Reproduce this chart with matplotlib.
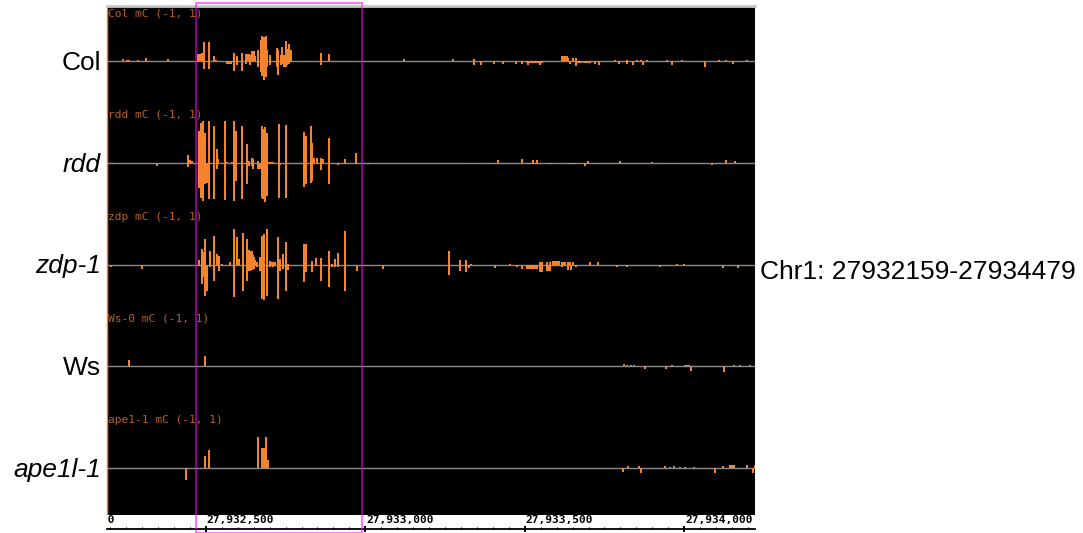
import matplotlib
matplotlib.use("Agg")
import matplotlib.pyplot as plt
from matplotlib.patches import Rectangle
from matplotlib.transforms import blended_transform_factory

# genome window shown and highlighted region
START = 27932190
END = 27934222
REGION = (27932469, 27932989)
MAJOR_TICKS = [27932000, 27932500, 27933000, 27933500, 27934000]
REF = 27932500  # bar positions below are offsets from this coordinate

names = ["Col", "rdd", "zdp-1", "Ws", "ape1l-1"]
italic = [False, True, True, False, True]
titles = ["Col mC (-1, 1)", "rdd mC (-1, 1)", "zdp mC (-1, 1)", "Ws-0 mC (-1, 1)", "ape1-1 mC (-1, 1)"]
chrom_label = "Chr1: 27932159-27934479"

# (offset bp, mC value)
col = [(-259, .05), (-248, .02), (-245, .02), (-241, .02), (-213, .03), (-188, .07), (-119, .04),
       (-25, .14), (-19, .15), (-13, .17), (-6, .39), (-5, -.15), (9, .39), (10, -.15), (25, .10), (31, .03),
       (66, -.06), (72, -.06), (78, -.06), (88, .17), (89, -.19), (97, .09), (98, -.08), (113, .17), (114, -.19),
       (125, .14), (126, -.05), (132, .14), (135, .14), (138, .12), (139, -.08), (144, .20), (145, -.01),
       (147, .20), (150, .20), (154, .09), (163, .23), (164, -.11), (172, .42), (173, -.21), (176, .50),
       (177, -.30), (182, .49), (183, -.37), (188, .50), (189, -.31), (191, .22), (192, -.11), (201, .12),
       (202, -.08), (223, .27), (224, -.11), (226, .22), (227, -.28), (235, .12), (236, -.08), (238, .29),
       (239, -.05), (245, .12), (246, -.11), (251, .40), (252, -.11), (254, .25), (255, -.08), (260, .33),
       (261, -.05), (266, .22), (267, -.01), (361, .17), (362, -.07), (386, .14),
       (621, .05), (774, .05), (840, .05), (841, -.07), (862, -.07), (903, -.05), (931, -.05), (972, -.05),
       (991, -.05), (1006, -.03), (1009, -.07), (1013, -.03), (1019, -.03), (1025, -.03), (1031, -.03),
       (1038, -.03), (1044, -.03), (1047, -.07), (1053, -.03), (1116, .10), (1119, .10), (1122, .10),
       (1125, .10), (1128, .10), (1132, .10), (1135, .07), (1141, -.06), (1151, .07), (1160, .07),
       (1161, -.09), (1166, -.03), (1172, -.03), (1178, -.03), (1185, -.03), (1191, -.03), (1198, -.03),
       (1204, -.03), (1220, -.05), (1232, -.07), (1282, .03), (1295, -.05), (1320, .03), (1321, -.05),
       (1339, -.07), (1351, .02), (1364, .03), (1370, -.07), (1383, .03), (1445, .03), (1461, -.07),
       (1492, .02), (1564, -.11), (1608, .03), (1630, .03), (1652, -.05), (1696, .03)]

rdd = [(-292, -.03), (-154, -.07), (-56, .15), (-55, -.09), (-50, .05), (-44, .03),
       (-22, .63), (-21, -.50), (-16, .80), (-15, -.70), (-9, .83), (-8, -.77), (-3, .60), (-2, -.43),
       (3, -.40), (9, .83), (10, -.73), (25, .73), (26, -.73), (34, .28), (35, -.12), (38, .07),
       (60, .83), (61, -.75), (66, .02), (82, .02), (88, .83), (89, -.77), (94, .63), (95, -.37),
       (113, .73), (114, -.73), (129, .37), (130, -.43), (135, .03), (136, -.07), (144, .10), (145, -.07),
       (147, .07), (148, -.13), (163, .03), (164, -.13), (170, -.13), (176, .73), (177, -.70),
       (179, .68), (180, -.73), (185, .71), (186, -.79), (191, .60), (192, -.67), (194, .02), (198, .02),
       (201, .02), (205, .02), (210, .02), (229, .78), (230, -.70), (233, -.05), (251, .75), (252, -.71),
       (307, .62), (308, -.48), (314, .53), (315, -.43), (329, .73), (330, -.40), (332, .40), (333, -.37),
       (339, .10), (340, -.03), (348, .10), (361, .10), (362, -.15), (367, .07), (386, .49), (387, -.43),
       (414, -.05), (436, .08), (437, -.02), (470, .19), (471, -.03), (511, -.03),
       (834, -.03), (906, -.03), (915, .05), (991, .07), (1006, -.03), (1012, -.03), (1018, -.03),
       (1025, .05), (1026, -.03), (1031, -.03), (1038, .05), (1039, -.03), (1044, -.03), (1072, -.03),
       (1078, -.03), (1085, -.03), (1141, -.03), (1147, -.03), (1153, -.03), (1160, -.03), (1188, -.07),
       (1198, .03), (1199, -.03), (1220, -.03), (1232, -.03), (1298, .03), (1299, -.03), (1398, .02),
       (1461, -.03), (1542, -.03), (1586, -.05), (1599, -.03), (1611, -.03), (1630, .05), (1658, .03),
       (1680, -.03)]

zdp = [(-298, -.05), (-201, -.09), (-22, .09), (-21, -.02), (-13, .31), (-12, -.39), (-9, .25), (-8, -.25),
       (-3, .51), (-2, -.62), (3, -.52), (13, .28), (14, -.05), (25, .58), (26, -.32), (34, .21), (35, -.01),
       (41, .18), (42, -.12), (50, .01), (75, .05), (88, .71), (89, -.65), (97, .55), (98, -.01), (103, .11),
       (116, .63), (117, -.52), (129, .51), (130, -.32), (132, .28), (133, -.12), (135, .30), (138, .28),
       (139, -.12), (141, .25), (144, .28), (145, -.10), (147, .20), (150, .15), (151, -.08), (153, .10),
       (160, .05), (161, -.05), (169, .15), (170, -.12), (176, .58), (177, -.69), (182, .61), (183, -.71),
       (191, .71), (192, -.62), (201, .08), (202, -.05), (207, .05), (210, .05), (211, -.05), (216, .05),
       (226, .56), (227, -.69), (232, .11), (233, -.12), (241, .21), (242, -.09), (251, .45), (252, -.52),
       (257, .01), (258, -.11), (307, .41), (308, -.35), (314, .41), (315, -.15), (332, .08), (333, -.15),
       (345, .13), (346, -.02), (361, .13), (362, -.32), (386, .27), (387, -.45), (395, .01), (396, -.05),
       (404, .11), (405, -.05), (414, .23), (415, -.05), (436, .68), (437, -.53), (473, -.12),
       (555, -.09), (762, .27), (763, -.20), (796, .10), (797, -.13), (815, .10), (816, -.15), (825, -.06),
       (831, .02), (906, -.07), (953, .02), (975, -.05), (991, -.08), (1006, -.09), (1010, -.09),
       (1014, -.09), (1018, -.09), (1022, -.09), (1026, -.09), (1030, -.09), (1034, -.09), (1038, -.09),
       (1047, .05), (1048, -.15), (1053, .05), (1054, -.15), (1069, .05), (1070, -.13), (1074, -.13),
       (1078, .05), (1079, -.13), (1088, .07), (1089, -.03), (1092, .07), (1097, .07), (1102, .07),
       (1107, .07), (1116, .05), (1117, -.05), (1122, .05), (1125, .05), (1135, .05), (1136, -.10),
       (1141, .05), (1145, -.10), (1151, .05), (1160, -.05), (1204, .05), (1229, .05), (1288, -.05),
       (1320, -.05), (1423, -.05), (1477, .02), (1498, .02), (1621, -.07), (1668, -.07)]

ws = [(-242, .12), (-3, .20), (1310, .04), (1320, .02), (1332, .02), (1342, .02), (1376, -.05),
      (1442, -.06), (1461, .03), (1502, .03), (1508, .03), (1514, .03), (1520, -.09), (1624, -.11),
      (1655, .03), (1674, .03), (1705, .03)]

ape = [(-61, -.23), (-3, .24), (9, .36), (163, .63), (176, .41), (179, .41), (182, .41), (185, .41),
       (188, .63), (191, .16), (194, .16),
       (1307, -.07), (1323, .05), (1357, .05), (1364, -.10), (1439, .05), (1455, .03), (1467, .05),
       (1486, .03), (1502, .03), (1530, .03), (1596, -.10), (1621, .05), (1643, .07), (1646, .07),
       (1649, .07), (1655, .07), (1696, .07), (1715, -.10), (1721, .07)]

tracks = [col, rdd, zdp, ws, ape]

W, H = 1083, 533
ORANGE = "#f5822c"
fig = plt.figure(figsize=(W / 100, H / 100), dpi=100)

# main black panel, y in mC units (50 px per unit)
ax = fig.add_axes([107 / W, (H - 515) / H, 648 / W, 509 / H])
ax.set_facecolor("black")
ax.set_xticks([])
ax.set_yticks([])
for s in ["bottom", "right"]:
    ax.spines[s].set_visible(False)
ax.spines["top"].set_color("#c8c8c8")
ax.spines["top"].set_linewidth(2)
ax.spines["left"].set_color(ORANGE)
ax.spines["left"].set_linewidth(1)

mono = "DejaVu Sans Mono"
for i, tr in enumerate(tracks):
    base = -1.1 - 2.035 * i
    ax.axhline(base, color="#8a8a8a", lw=1, zorder=1)
    xs = [REF + p for p, v in tr]
    vs = [v for p, v in tr]
    ax.bar(xs, vs, bottom=base, width=6, color=ORANGE, linewidth=0, zorder=2)
    ax.text(START + 3, base + 0.96, titles[i], color="#b8611f", fontsize=8.1,
            family=mono, ha="left", va="center")
    # sample name on the left
    ypx = 61 + 101.75 * i + 9
    fig.text(101 / W, 1 - ypx / H, names[i], fontsize=19, family="Liberation Sans",
             style="italic" if italic[i] else "normal", ha="right", va="baseline")
ax.set_xlim(START, END)
ax.set_ylim(-10.18, 0)

fig.text(760 / W, 1 - 279 / H, chrom_label, fontsize=19, family="Liberation Sans",
         ha="left", va="baseline")

# ruler
ax2 = fig.add_axes([107 / W, 0, 648 / W, 18 / H])
ax2.set_facecolor("white")
for s in ["top", "left", "right"]:
    ax2.spines[s].set_visible(False)
ax2.spines["bottom"].set_position(("axes", 0.22))
ax2.spines["bottom"].set_linewidth(1.3)
ax2.set_yticks([])
ax2.set_xticks(MAJOR_TICKS)
ax2.set_xticks(range(27932000, 27934300, 50), minor=True)
ax2.set_xticklabels([])
ax2.tick_params(axis="x", which="major", direction="inout", length=4.5, width=1.4)
ax2.tick_params(axis="x", which="minor", direction="in", length=1.6, width=0.8)
ax2.set_xlim(START, END)
ax2.set_ylim(0, 1)
tr2 = blended_transform_factory(ax2.transData, ax2.transAxes)
for t in MAJOR_TICKS:
    ax2.text(t + 3, 0.72, f"{t:,}", transform=tr2, ha="left", va="center",
             family=mono, fontsize=8.1, fontweight="bold", clip_on=True)

# highlighted region box
rect = Rectangle((REGION[0], 0), REGION[1] - REGION[0], (H - 2.7) / H,
                 transform=blended_transform_factory(ax.transData, fig.transFigure),
                 fill=False, edgecolor="#ff00ff", alpha=0.65, lw=1.2, zorder=5)
fig.add_artist(rect)

fig.savefig("out.png", dpi=100, facecolor="white")
